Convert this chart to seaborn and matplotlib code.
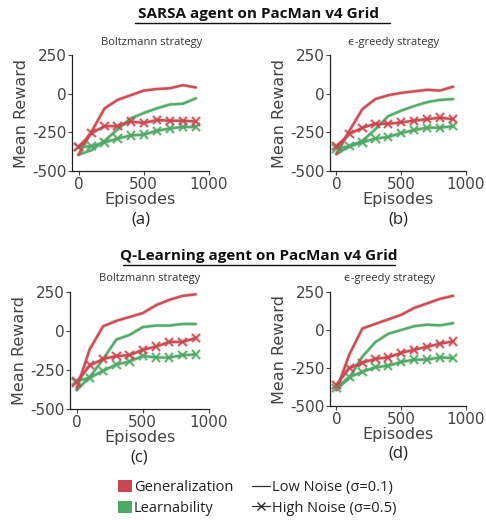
import matplotlib
matplotlib.use("Agg")
import matplotlib.pyplot as plt
import matplotlib.patheffects as pe
from matplotlib.lines import Line2D
from matplotlib.patches import Patch
import seaborn as sns
import pandas as pd

sns.set_theme(style="ticks")
plt.rcParams["font.family"] = ["DejaVu Sans"]

episodes = [0, 100, 200, 300, 400, 500, 600, 700, 800, 900]

# SARSA, Boltzmann
sarsa_boltz_gen_low = [-395, -245, -95, -40, -10, 20, 30, 35, 55, 40]
sarsa_boltz_learn_low = [-395, -365, -305, -230, -160, -125, -95, -70, -65, -30]
sarsa_boltz_gen_high = [-345, -255, -210, -210, -180, -190, -170, -175, -175, -180]
sarsa_boltz_learn_high = [-345, -340, -315, -290, -270, -265, -240, -225, -215, -215]

# SARSA, epsilon-greedy
sarsa_eps_gen_low = [-390, -240, -100, -35, -10, 5, 15, 25, 20, 45]
sarsa_eps_learn_low = [-390, -340, -305, -230, -145, -110, -80, -55, -40, -35]
sarsa_eps_gen_high = [-340, -260, -220, -195, -195, -185, -175, -165, -155, -165]
sarsa_eps_learn_high = [-355, -340, -315, -290, -280, -255, -235, -220, -220, -210]

# Q-Learning, Boltzmann
q_boltz_gen_low = [-370, -115, 30, 65, 90, 115, 165, 200, 225, 235]
q_boltz_learn_low = [-380, -295, -180, -55, -25, 25, 35, 35, 45, 45]
q_boltz_gen_high = [-330, -220, -180, -160, -155, -120, -100, -70, -70, -45]
q_boltz_learn_high = [-320, -300, -255, -215, -195, -160, -170, -170, -155, -150]

# Q-Learning, epsilon-greedy
q_eps_gen_low = [-395, -160, 10, 40, 70, 100, 145, 175, 205, 225]
q_eps_learn_low = [-390, -315, -175, -80, -25, 0, 25, 35, 30, 45]
q_eps_gen_high = [-360, -250, -215, -190, -180, -150, -130, -110, -90, -75]
q_eps_learn_high = [-380, -310, -275, -245, -235, -210, -195, -195, -180, -185]

y_ticks = [-500, -250, 0, 250]
x_ticks = [0, 500, 1000]

RED = "#C9474F"
GREEN = "#4FA865"
TXT = "#444444"
SANS = ["Open Sans", "DejaVu Sans"]

W, H = 486, 520
fig = plt.figure(figsize=(W / 100, H / 100), dpi=100)


def px_axes(left, top, right, bottom):
    return fig.add_axes([left / W, 1 - bottom / H, (right - left) / W, (bottom - top) / H])


# (subtitle, tag, axes box in px, subtitle centre x, data...)
panels = [
    ("Boltzmann strategy", "(a)", (72, 55, 209, 171), 152,
     sarsa_boltz_gen_low, sarsa_boltz_learn_low, sarsa_boltz_gen_high, sarsa_boltz_learn_high),
    ("\u03f5-greedy strategy", "(b)", (330, 55, 466, 171), 394,
     sarsa_eps_gen_low, sarsa_eps_learn_low, sarsa_eps_gen_high, sarsa_eps_learn_high),
    ("Boltzmann strategy", "(c)", (70, 292, 209, 409), 150,
     q_boltz_gen_low, q_boltz_learn_low, q_boltz_gen_high, q_boltz_learn_high),
    ("\u03f5-greedy strategy", "(d)", (330, 292, 466, 406), 390,
     q_eps_gen_low, q_eps_learn_low, q_eps_gen_high, q_eps_learn_high),
]

halo = [pe.Stroke(linewidth=3.0, alpha=0.18), pe.Normal()]

for title, tag, box, sub_x, gl, ll, gh, lh in panels:
    ax = px_axes(*box)
    for vals, color, marker in [(ll, GREEN, None), (gl, RED, None),
                                (lh, GREEN, "x"), (gh, RED, "x")]:
        df = pd.DataFrame({"Episodes": episodes, "Reward": vals})
        sns.lineplot(data=df, x="Episodes", y="Reward", ax=ax, color=color,
                     linewidth=1.8, alpha=0.95, marker=marker, markersize=6,
                     markeredgewidth=1.2, markeredgecolor=color)
    for ln in ax.lines:
        ln.set_path_effects(halo)
    ax.set_xlim(-50, 1000)
    ax.set_ylim(-500, 250)
    ax.set_xticks(x_ticks)
    ax.set_yticks(y_ticks)
    ax.set_yticklabels([str(v) for v in y_ticks])
    ax.tick_params(labelsize=11, colors=TXT, length=3, width=0.8, pad=1)
    ax.set_xlabel("Episodes", fontsize=11.5, color=TXT, labelpad=0)
    ax.set_ylabel("Mean Reward", fontsize=11.5, color=TXT, labelpad=2)
    for s in ("left", "bottom"):
        ax.spines[s].set_color("#222222")
        ax.spines[s].set_linewidth(0.9)
    sns.despine(ax=ax)
    cx = (box[0] + box[2]) / 2 / W
    fig.text(sub_x / W, 1 - (box[1] - 13) / H, title, ha="center", va="center",
             fontsize=8, family=SANS, color="#333333")
    fig.text(cx, 1 - (box[3] + 48) / H, tag, ha="center", va="center",
             fontsize=12, family=SANS, color="#222222")

# Section headings with underline
for text, y, x0, x1 in [("SARSA agent on PacMan v4 Grid", 14, 135, 390),
                        ("Q-Learning agent on PacMan v4 Grid", 256, 123, 395)]:
    fig.text(259 / W, 1 - y / H, text, ha="center", va="center", fontsize=11,
             fontweight="bold", family=SANS, color="#111111")
    fig.add_artist(Line2D([x0 / W, x1 / W], [1 - (y + 8.5) / H, 1 - (y + 8.5) / H],
                          color="#111111", linewidth=1.0))

colour_handles = [
    Patch(facecolor=RED, edgecolor="none", label="Generalization"),
    Patch(facecolor=GREEN, edgecolor="none", label="Learnability"),
]
style_handles = [
    Line2D([], [], color="#333333", linewidth=0.9, label="Low Noise (\u03c3=0.1)"),
    Line2D([], [], color="#333333", linewidth=0.9, marker="x", markersize=6,
           label="High Noise (\u03c3=0.5)"),
]
common = dict(loc="center left", frameon=False, borderpad=0, borderaxespad=0,
              prop={"family": SANS, "size": 10.5}, labelspacing=0.35,
              labelcolor="#222222")
leg1 = fig.legend(handles=colour_handles, bbox_to_anchor=(118 / W, 1 - 498 / H),
                  handlelength=0.95, handleheight=0.9, handletextpad=0.15, **common)
leg2 = fig.legend(handles=style_handles, bbox_to_anchor=(252 / W, 1 - 498 / H),
                  handlelength=1.25, handletextpad=0.15, **common)

fig.savefig("out.png", dpi=100)
